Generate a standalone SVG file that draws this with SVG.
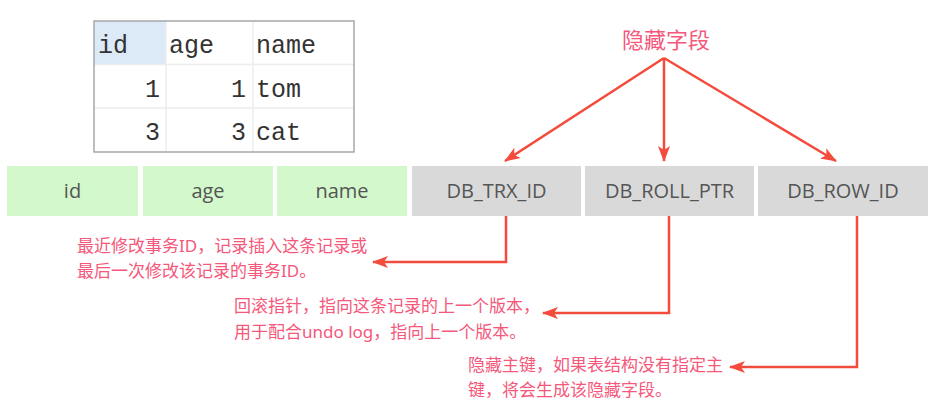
<svg xmlns="http://www.w3.org/2000/svg" width="930" height="407" viewBox="0 0 930 407">
<style>
.tbl{font-family:"Liberation Mono","Courier New",monospace;font-size:25px;fill:#333}
.fg{fill:#d3f8cb}
.gy{fill:#d9d9d9}
.ft{font-family:"Open Sans","Noto Sans",sans-serif;font-size:20px;fill:#555;text-anchor:middle}
.note{font-family:"Noto Sans","Noto Sans CJK SC",sans-serif;font-size:17px;fill:#f5587b}
.conn{fill:none;stroke:#f34b3c;stroke-width:2.5;marker-end:url(#ah)}
</style>
<defs>
<marker id="ah" viewBox="0 0 16 12" refX="15" refY="6" markerWidth="16" markerHeight="12" markerUnits="userSpaceOnUse" orient="auto">
<path d="M0,0 L16,6 L0,12 L4,6 z" fill="#f34b3c"/>
</marker>
</defs>
<rect width="930" height="407" fill="#fff"/>

<g id="table">
<rect x="94" y="21" width="260" height="131" fill="#fff"/>
<rect x="94" y="21" width="72" height="43" fill="#dceaf8"/>
<g stroke="#ececec" stroke-width="1.5">
<line x1="166" y1="21" x2="166" y2="152"/>
<line x1="253" y1="21" x2="253" y2="152"/>
<line x1="94" y1="64.5" x2="354" y2="64.5"/>
<line x1="94" y1="108" x2="354" y2="108"/>
</g>
<rect x="94" y="21" width="260" height="131" fill="none" stroke="#a6a6a6" stroke-width="1.5"/>
<text class="tbl" x="98" y="53">id</text>
<text class="tbl" x="169" y="53">age</text>
<text class="tbl" x="256" y="53">name</text>
<text class="tbl" x="160" y="97" text-anchor="end">1</text>
<text class="tbl" x="246" y="97" text-anchor="end">1</text>
<text class="tbl" x="256" y="97">tom</text>
<text class="tbl" x="160" y="140" text-anchor="end">3</text>
<text class="tbl" x="246" y="140" text-anchor="end">3</text>
<text class="tbl" x="256" y="140">cat</text>
</g>

<g id="f-id"><rect class="fg" x="7" y="166" width="131" height="50"/><text class="ft" x="72.5" y="198">id</text></g>
<g id="f-age"><rect class="fg" x="143" y="166" width="130" height="50"/><text class="ft" x="208" y="198">age</text></g>
<g id="f-name"><rect class="fg" x="277" y="166" width="130" height="50"/><text class="ft" x="342" y="198">name</text></g>
<g id="f-trx"><rect class="gy" x="412" y="166" width="169" height="50"/><text class="ft" x="496.5" y="198">DB_TRX_ID</text></g>
<g id="f-roll"><rect class="gy" x="585" y="166" width="169" height="50"/><text class="ft" x="669.5" y="198">DB_ROLL_PTR</text></g>
<g id="f-row"><rect class="gy" x="758" y="166" width="170" height="50"/><text class="ft" x="843" y="198">DB_ROW_ID</text></g>

<g id="hidden-label"><text x="666" y="48" font-family="Noto Sans CJK SC,sans-serif" font-size="22" fill="#f5587b" text-anchor="middle">隐藏字段</text></g>

<g id="note-trx"><text class="note" x="77" y="252">最近修改事务ID，记录插入这条记录或</text><text class="note" x="77" y="277">最后一次修改该记录的事务ID。</text></g>
<g id="note-roll"><text class="note" x="234" y="312">回滚指针，指向这条记录的上一个版本，</text><text class="note" x="234" y="338">用于配合undo log，指向上一个版本。</text></g>
<g id="note-row"><text class="note" x="468" y="371">隐藏主键，如果表结构没有指定主</text><text class="note" x="468" y="396">键，将会生成该隐藏字段。</text></g>

<g id="connectors">
<path class="conn" d="M664,58 L505,161"/>
<path class="conn" d="M664,58 L664,161"/>
<path class="conn" d="M664,58 L836,161"/>
<path class="conn" d="M506,216 V262 H373"/>
<path class="conn" d="M669,216 V313 H543"/>
<path class="conn" d="M857,216 V367 H730"/>
</g>
</svg>
